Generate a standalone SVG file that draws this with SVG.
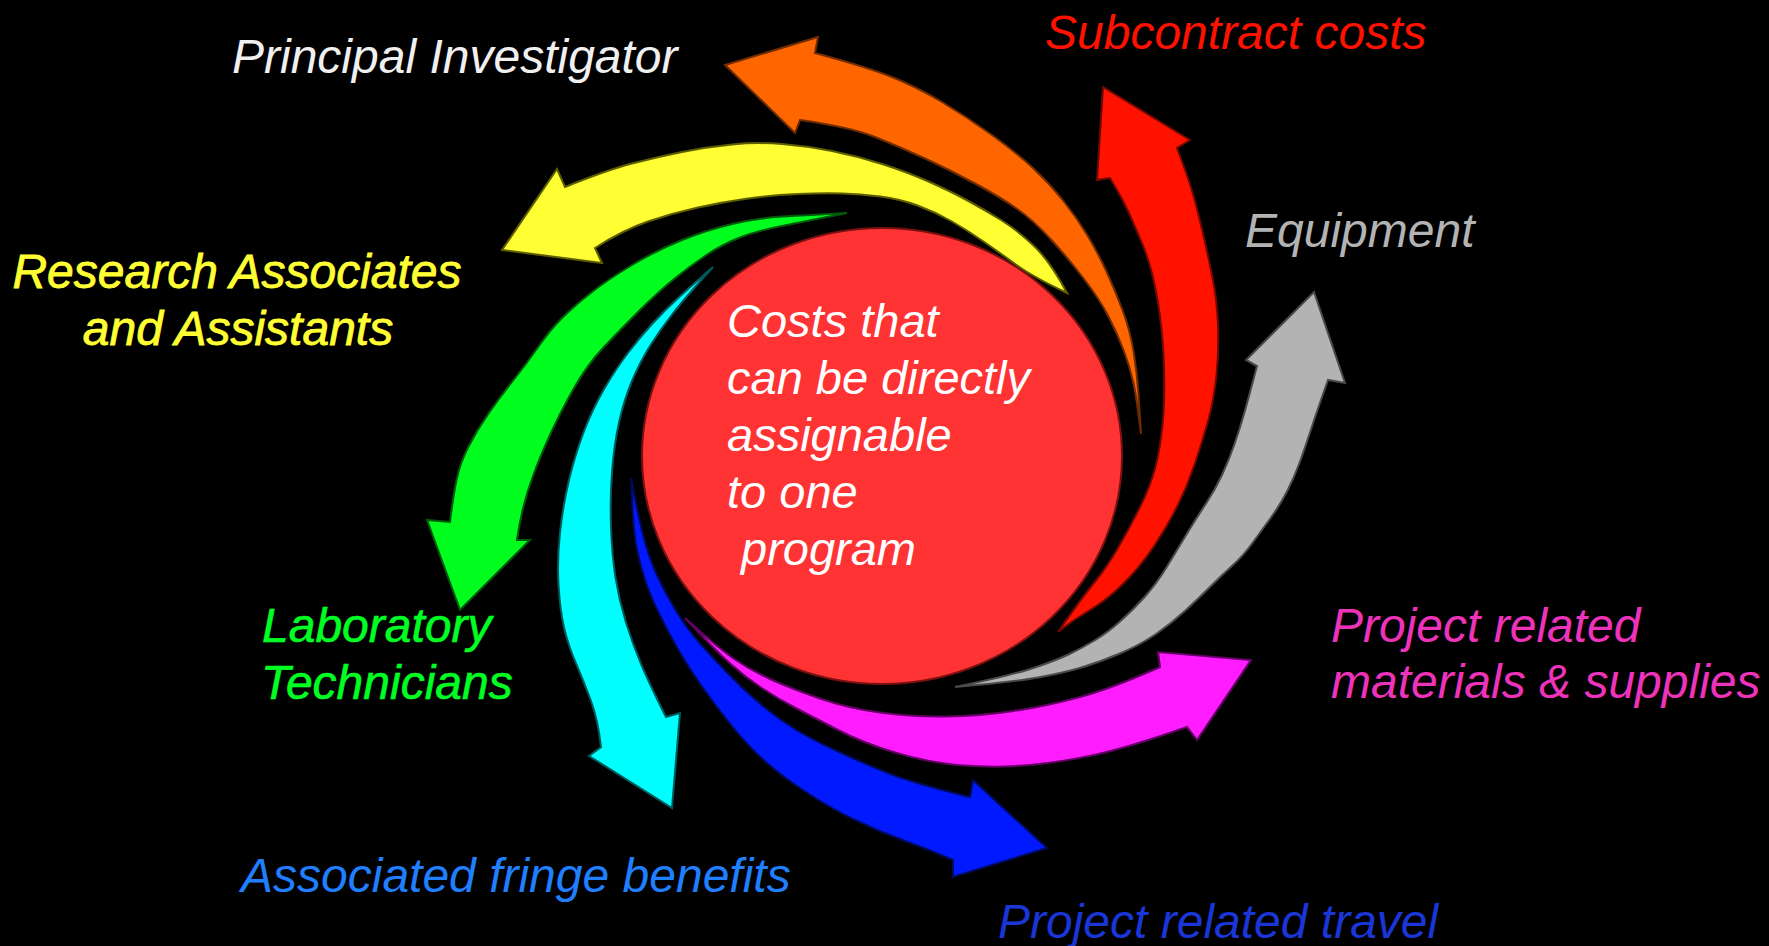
<svg xmlns="http://www.w3.org/2000/svg" width="1769" height="946" viewBox="0 0 1769 946">
  <style>
    .lbl { font-family: "Liberation Sans", Arial, sans-serif; font-style: italic; font-size: 48px; }
    .hub-text { font-family: "Liberation Sans", Arial, sans-serif; font-style: italic; font-size: 47px; fill: #ffffff; }
    .arrow { stroke-width: 2; stroke-linejoin: miter; }
  </style>

  <rect x="0" y="0" width="1769" height="946" fill="#000000"/>

  <!-- swirl arrows radiating from the hub -->
  <g id="arrows">
    <!-- orange: Principal Investigator -->
    <path id="arrow-pi" class="arrow" fill="#ff6600" stroke="#6e2c00"
      d="M1141,434 Q1140,417 1138.5,394.5 Q1137,372 1133.5,351 Q1130,330 1122.5,310 Q1115,290 1106.5,271.5 Q1098,253 1087.5,235.5 Q1077,218 1063.5,201 Q1050,184 1033.5,168.5 Q1017,153 992,135 Q967,117 942,102 Q917,87 892,77 Q867,67 815,53
         L818,37 L725,65 L795,133 L800,120
         Q850,127 875,137 Q900,147 925,158.5 Q950,170 975,183.5 Q1000,197 1016.5,208.5 Q1033,220 1050.5,239 Q1068,258 1084,279 Q1100,300 1108.5,316.5 Q1117,333 1123.5,350 Q1130,367 1133.5,383.5 Q1137,400 1141,434 Z"/>
    <!-- red: Subcontract costs -->
    <path id="arrow-sub" class="arrow" fill="#ff1200" stroke="#6e0800"
      d="M1058,632 Q1073,620 1090,610 Q1107,600 1123.5,583.5 Q1140,567 1153.5,547 Q1167,527 1177,507 Q1187,487 1194.5,465 Q1202,443 1208,421.5 Q1214,400 1216.5,375 Q1219,350 1218,325 Q1217,300 1213,280 Q1209,260 1204.5,240 Q1200,220 1195,201 Q1190,182 1177,148
         L1190,140 L1103,87 L1097,180 L1110,178
         Q1123,200 1128,211 Q1133,222 1142.5,244.5 Q1152,267 1157.5,300 Q1163,333 1164,366.5 Q1165,400 1162.5,425 Q1160,450 1155,468.5 Q1150,487 1140,507 Q1130,527 1118.5,547 Q1107,567 1093.5,583.5 Q1080,600 1058,632 Z"/>
    <!-- grey: Equipment -->
    <path id="arrow-equip" class="arrow" fill="#b3b3b3" stroke="#4a4a4a"
      d="M955,687 Q1013,682 1038,677.5 Q1063,673 1081.5,667.5 Q1100,662 1120,653.5 Q1140,645 1156,634 Q1172,623 1186,610 Q1200,597 1211,586 Q1222,575 1232.5,565.5 Q1243,556 1252.5,543 Q1262,530 1271,517.5 Q1280,505 1287,491.5 Q1294,478 1299.5,463 Q1305,448 1310.5,431 Q1316,414 1328,380
         L1345,383 L1314,292 L1246,360 L1257,366
         Q1248,400 1244,414 Q1240,428 1234.5,444 Q1229,460 1222,475 Q1215,490 1206,503.5 Q1197,517 1187,533.5 Q1177,550 1167,566.5 Q1157,583 1145,596.5 Q1133,610 1120,621.5 Q1107,633 1094.5,640.5 Q1082,648 1069.5,654 Q1057,660 1035,667.5 Q1013,675 955,687 Z"/>
    <!-- magenta: materials & supplies -->
    <path id="arrow-mat" class="arrow" fill="#ff1cff" stroke="#640064"
      d="M685,618 Q715,650 730,663.5 Q745,677 762.5,688.5 Q780,700 796.5,708.5 Q813,717 838,730 Q863,743 896.5,753 Q930,763 963.5,765.5 Q997,768 1030,765 Q1063,762 1096.5,754.5 Q1130,747 1187,727
         L1197,740 L1251,660 L1158,652 L1160,667
         Q1113,688 1080,697 Q1047,706 1013.5,711 Q980,716 946.5,716.5 Q913,717 880,712.5 Q847,708 818.5,698 Q790,688 770,679 Q750,670 733.5,658.5 Q717,647 685,618 Z"/>
    <!-- blue: travel -->
    <path id="arrow-travel" class="arrow" fill="#0019ff" stroke="#000a5a"
      d="M631,478 Q633,530 636.5,547.5 Q640,565 645,580 Q650,595 658.5,612.5 Q667,630 677.5,648.5 Q688,667 701.5,686 Q715,705 731,725 Q747,745 763.5,760 Q780,775 805,791.5 Q830,808 855,820 Q880,832 905,841 Q930,850 953,860
         L953,877 L1047,848 L973,780 L970,797
         Q913,783 888,773 Q863,763 838,751.5 Q813,740 796.5,730 Q780,720 763.5,706.5 Q747,693 731,676.5 Q715,660 701.5,645 Q688,630 676.5,611.5 Q665,593 656.5,574 Q648,555 642.5,532.5 Q637,510 631,478 Z"/>
    <!-- cyan: fringe benefits -->
    <path id="arrow-fringe" class="arrow" fill="#00ffff" stroke="#005a5a"
      d="M713,267 Q690,287 677.5,298.5 Q665,310 652.5,323.5 Q640,337 627.5,353.5 Q615,370 603.5,390 Q592,410 583.5,432.5 Q575,455 569,480 Q563,505 560,532.5 Q557,560 558.5,585 Q560,610 564,627.5 Q568,645 576,663.5 Q584,682 591,701 Q598,720 601,747
         L589,756 L672,808 L680,713 L666,717
         Q650,685 641.5,665 Q633,645 626,622.5 Q619,600 615.5,577.5 Q612,555 611,527.5 Q610,500 612,472.5 Q614,445 619,422.5 Q624,400 632,381 Q640,362 650,346 Q660,330 672.5,314 Q685,298 713,267 Z"/>
    <!-- green: laboratory technicians -->
    <path id="arrow-lab" class="arrow" fill="#00ff1e" stroke="#005a0a"
      d="M847,213 Q807,215 782,216.5 Q757,218 732,224 Q707,230 682,240 Q657,250 632,265 Q607,280 590,293.5 Q573,307 561.5,318.5 Q550,330 538.5,346.5 Q527,363 513.5,380 Q500,397 488.5,413.5 Q477,430 468.5,446.5 Q460,463 456.5,480 Q453,497 450,522
         L427,520 L460,610 L530,540 L517,540
         Q519,525 523,508.5 Q527,492 533.5,474.5 Q540,457 550,435 Q560,413 573.5,389 Q587,365 603.5,347.5 Q620,330 638.5,311.5 Q657,293 673.5,279.5 Q690,266 706.5,255 Q723,244 740,237.5 Q757,231 782,226 Q807,221 847,213 Z"/>
    <!-- yellow: research associates -->
    <path id="arrow-ra" class="arrow" fill="#ffff33" stroke="#5e5e00"
      d="M1067,293 Q1050,261 1033.5,245.5 Q1017,230 1001,220 Q985,210 967.5,200.5 Q950,191 928.5,181.5 Q907,172 882,164 Q857,156 832,151 Q807,146 782,144 Q757,142 732,144.5 Q707,147 682,152 Q657,157 632,163.5 Q607,170 565,187
         L557,169 L502,250 L602,263 L595,248
         Q623,230 648,221.5 Q673,213 698,207.5 Q723,202 748,198.5 Q773,195 798,194 Q823,193 841.5,193.5 Q860,194 880,196.5 Q900,199 917.5,205.5 Q935,212 951,221 Q967,230 983.5,241.5 Q1000,253 1016.5,265 Q1033,277 1067,293 Z"/>
  </g>

  <!-- central hub -->
  <g id="hub">
    <ellipse cx="882" cy="456" rx="240" ry="228" fill="#ff3333" stroke="#7a1010" stroke-width="2"/>
    <text class="hub-text" x="727" y="337">Costs that</text>
    <text class="hub-text" x="727" y="394">can be directly</text>
    <text class="hub-text" x="727" y="451">assignable</text>
    <text class="hub-text" x="727" y="508">to one</text>
    <text class="hub-text" x="741" y="565">program</text>
  </g>

  <!-- labels -->
  <g id="label-pi">
    <text class="lbl" x="232" y="73" fill="#f0f0f0">Principal Investigator</text>
  </g>
  <g id="label-sub">
    <text class="lbl" x="1045" y="49" fill="#ff1100">Subcontract costs</text>
  </g>
  <g id="label-equip">
    <text class="lbl" x="1245" y="247" fill="#b3b3b3">Equipment</text>
  </g>
  <g id="label-ra">
    <text class="lbl" x="237" y="288" fill="#ffff33" stroke="#ffff33" stroke-width="0.8" text-anchor="middle">Research Associates</text>
    <text class="lbl" x="238" y="345" fill="#ffff33" stroke="#ffff33" stroke-width="0.8" text-anchor="middle">and Assistants</text>
  </g>
  <g id="label-lab">
    <text class="lbl" x="262" y="642" fill="#00ff22" stroke="#00ff22" stroke-width="0.6">Laboratory</text>
    <text class="lbl" x="261" y="699" fill="#00ff22" stroke="#00ff22" stroke-width="0.6">Technicians</text>
  </g>
  <g id="label-fringe">
    <text class="lbl" x="241" y="892" fill="#1f7fff">Associated fringe benefits</text>
  </g>
  <g id="label-mat">
    <text class="lbl" x="1331" y="642" fill="#ee33bb">Project related</text>
    <text class="lbl" x="1331" y="698" fill="#ee33bb">materials &amp; supplies</text>
  </g>
  <g id="label-travel">
    <text class="lbl" x="998" y="938" fill="#1a36d6">Project related travel</text>
  </g>
</svg>
